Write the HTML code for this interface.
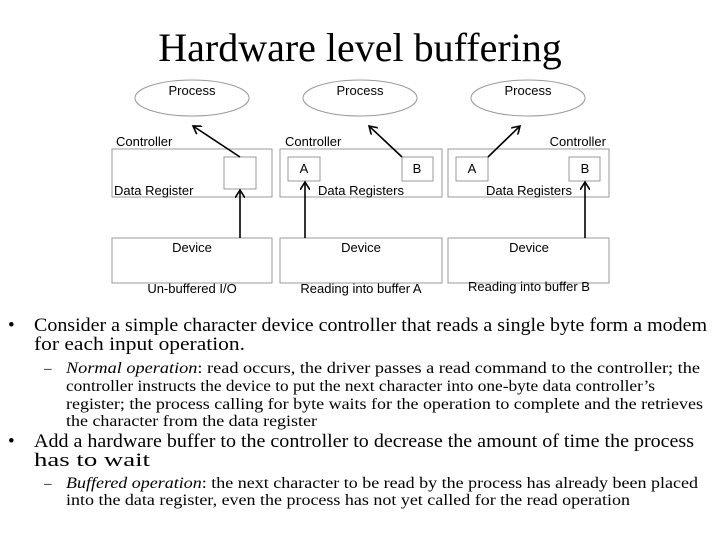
<!DOCTYPE html>
<html><head><meta charset="utf-8"><style>html,body{margin:0;padding:0;background:#fff}svg{display:block}</style></head>
<body>
<svg width="720" height="540" viewBox="0 0 720 540" xmlns="http://www.w3.org/2000/svg">
<defs><marker id="ah" markerWidth="10" markerHeight="10" refX="8" refY="5" orient="auto" markerUnits="userSpaceOnUse"><path d="M0,0 L8,5 L0,10" fill="none" stroke="#000" stroke-width="1.6"/></marker></defs>
<text x="360" y="61" text-anchor="middle" font-family="Liberation Serif, serif" font-size="40">Hardware level buffering</text>
<g font-family="Liberation Sans, sans-serif" font-size="13" fill="#000">
<g fill="none" stroke="#999" stroke-width="1">
<ellipse cx="192" cy="98" rx="57" ry="18"/><ellipse cx="360" cy="98" rx="57" ry="18"/><ellipse cx="528" cy="98" rx="57" ry="18"/>
<rect x="112" y="149" width="160" height="48"/><rect x="280" y="149" width="162" height="48"/><rect x="448" y="149" width="161" height="48"/>
<rect x="112" y="238" width="160" height="45"/><rect x="280" y="238" width="162" height="45"/><rect x="448" y="238" width="161" height="45"/>
<rect x="224" y="157" width="32" height="32"/>
<rect x="288" y="157" width="32" height="24"/><rect x="402" y="157" width="31" height="24"/>
<rect x="456" y="157" width="32" height="24"/><rect x="569" y="157" width="31" height="24"/>
</g>
<g stroke="#000" stroke-width="1.6" fill="none" marker-end="url(#ah)">
<line x1="240" y1="157" x2="193" y2="126"/><line x1="240" y1="238" x2="240" y2="190"/>
<line x1="402" y1="157" x2="369" y2="126"/><line x1="305" y1="238" x2="305" y2="182"/>
<line x1="488" y1="157" x2="520" y2="126"/><line x1="585" y1="238" x2="585" y2="182"/>
</g>
<text x="192" y="95" text-anchor="middle">Process</text><text x="360" y="95" text-anchor="middle">Process</text><text x="528" y="95" text-anchor="middle">Process</text>
<text x="116" y="146">Controller</text><text x="285" y="146">Controller</text><text x="606" y="146" text-anchor="end">Controller</text>
<text x="114" y="195">Data Register</text><text x="361" y="195" text-anchor="middle">Data Registers</text><text x="529" y="195" text-anchor="middle">Data Registers</text>
<text x="304" y="173" text-anchor="middle">A</text><text x="417" y="173" text-anchor="middle">B</text><text x="472" y="173" text-anchor="middle">A</text><text x="585" y="173" text-anchor="middle">B</text>
<text x="192" y="252" text-anchor="middle">Device</text><text x="361" y="252" text-anchor="middle">Device</text><text x="529" y="252" text-anchor="middle">Device</text>
<text x="192" y="293" text-anchor="middle">Un-buffered I/O</text><text x="361" y="293" text-anchor="middle">Reading into buffer A</text><text x="529" y="291" text-anchor="middle">Reading into buffer B</text>
</g>
<g font-family="Liberation Serif, serif" fill="#000">
<text x="8" y="331" font-size="19">•</text>
<text x="34" y="331" font-size="19" textLength="673" lengthAdjust="spacingAndGlyphs">Consider a simple character device controller that reads a single byte form a modem</text>
<text x="34" y="350" font-size="19" textLength="211" lengthAdjust="spacingAndGlyphs">for each input operation.</text>
<text x="44" y="373" font-size="15">–</text>
<text x="66" y="373" font-size="15.5" textLength="634" lengthAdjust="spacingAndGlyphs"><tspan font-style="italic">Normal operation</tspan>: read occurs, the driver passes a read command to the controller; the</text>
<text x="66" y="391" font-size="15.5" textLength="589" lengthAdjust="spacingAndGlyphs">controller instructs the device to put the next character into one-byte data controller’s</text>
<text x="66" y="409" font-size="15.5" textLength="637" lengthAdjust="spacingAndGlyphs">register; the process calling for byte waits for the operation to complete and the retrieves</text>
<text x="66" y="426" font-size="15.5" textLength="251" lengthAdjust="spacingAndGlyphs">the character from the data register</text>
<text x="8" y="447" font-size="19">•</text>
<text x="34" y="447" font-size="19" textLength="660" lengthAdjust="spacingAndGlyphs">Add a hardware buffer to the controller to decrease the amount of time the process</text>
<text x="34" y="466" font-size="19" textLength="116" lengthAdjust="spacingAndGlyphs">has to wait</text>
<text x="44" y="488" font-size="15">–</text>
<text x="66" y="488" font-size="15.5" textLength="632" lengthAdjust="spacingAndGlyphs"><tspan font-style="italic">Buffered operation</tspan>: the next character to be read by the process has already been placed</text>
<text x="66" y="505" font-size="15.5" textLength="564" lengthAdjust="spacingAndGlyphs">into the data register, even the process has not yet called for the read operation</text>
</g>
</svg>
</body></html>
